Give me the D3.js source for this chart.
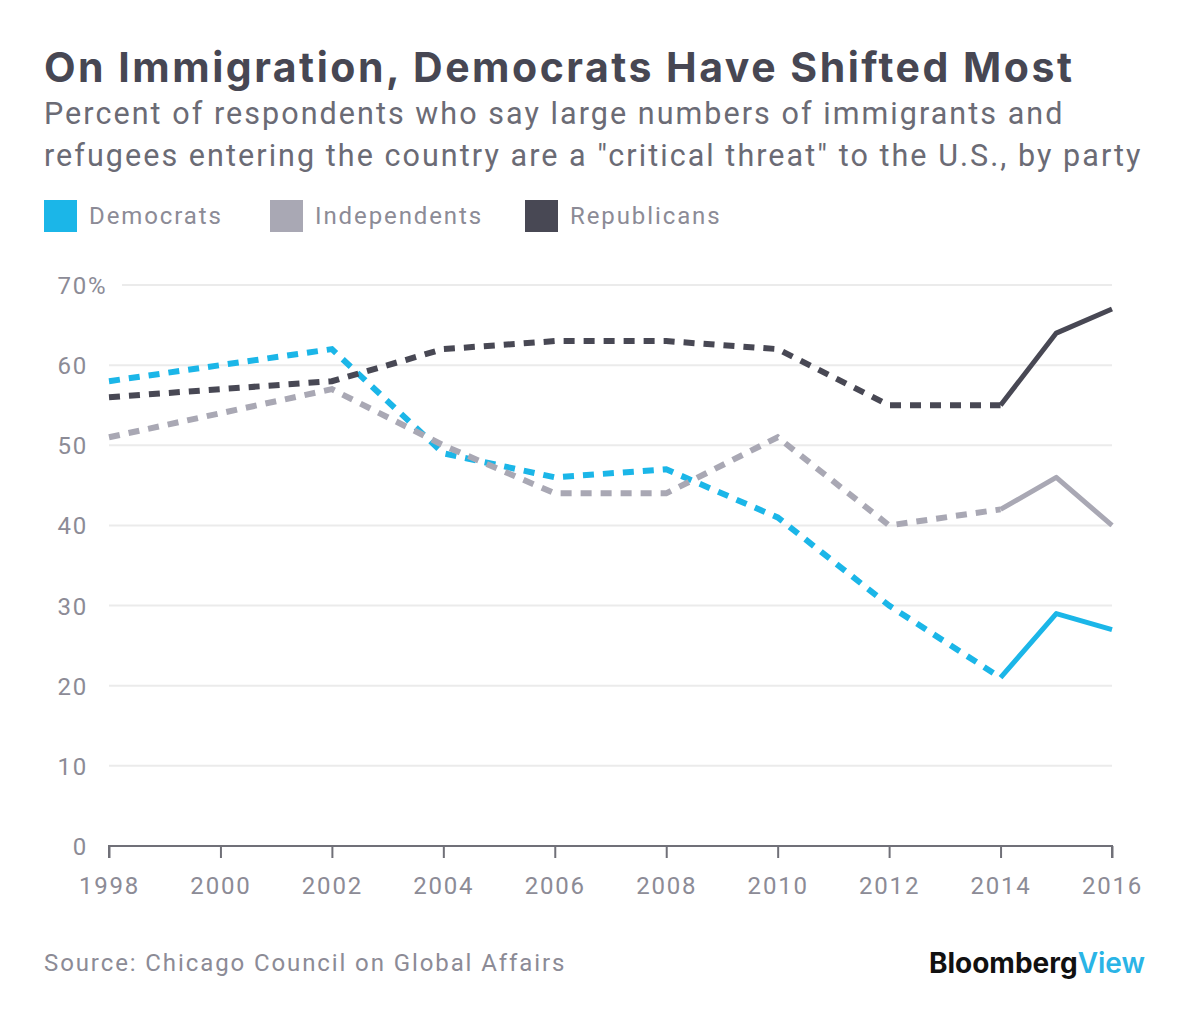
<!DOCTYPE html>
<html><head><meta charset="utf-8">
<script src="https://cdn.jsdelivr.net/npm/d3@7"></script>
<style>body{margin:0;background:#fff}svg{display:block}</style>
</head><body>
<svg id="chart" width="1200" height="1023"></svg>
<script>
const years = [1998, 2002, 2004, 2006, 2008, 2010, 2012, 2014, 2015, 2016];
const democrats = [58, 62, 49, 46, 47, 41, 30, 21, 29, 27];
const independents = [51, 57, 50, 44, 44, 51, 40, 42, 46, 40];
const republicans = [56, 58, 62, 63, 63, 62, 55, 55, 64, 67];
const seriesNames = ["Democrats", "Independents", "Republicans"];
const xTicks = [1998, 2000, 2002, 2004, 2006, 2008, 2010, 2012, 2014, 2016];
const yTicks = [0, 10, 20, 30, 40, 50, 60, 70];
const dashedUntil = 2014;

const colors = {Democrats: "#1bb6e8", Independents: "#a9a8b4", Republicans: "#484854"};
const seriesValues = {Democrats: democrats, Independents: independents, Republicans: republicans};
const font = "Roboto, 'Open Sans', sans-serif";
const grey = "#8c8b96";

const svg = d3.select("#chart");
const x = d3.scaleLinear().domain([1998, 2016]).range([109, 1112]);
const y = d3.scaleLinear().domain([0, 70]).range([846, 285]);

// Title
svg.append("text").attr("x", 44).attr("y", 82).attr("font-family", "Inter, sans-serif")
  .attr("font-weight", 700).attr("font-size", 41).attr("letter-spacing", 2.5).attr("fill", "#474753")
  .text("On Immigration, Democrats Have Shifted Most");
svg.append("text").attr("x", 44).attr("y", 124).attr("font-family", font)
  .attr("font-size", 30.5).attr("letter-spacing", 2.05).attr("fill", "#6b6b75")
  .text("Percent of respondents who say large numbers of immigrants and");
svg.append("text").attr("x", 44).attr("y", 166).attr("font-family", font)
  .attr("font-size", 30.5).attr("letter-spacing", 2.05).attr("fill", "#6b6b75")
  .text("refugees entering the country are a \"critical threat\" to the U.S., by party");

// Legend
const legendX = [44, 270, 525];
seriesNames.forEach((n, i) => {
  const g = svg.append("g").attr("transform", `translate(${legendX[i]},200)`);
  g.append("rect").attr("width", 33).attr("height", 32).attr("fill", colors[n]);
  g.append("text").attr("x", 45).attr("y", 24).attr("font-family", font)
    .attr("font-size", 24).attr("letter-spacing", 1.9).attr("fill", grey).text(n);
});

// Gridlines
svg.append("g").selectAll("line").data(yTicks.filter(d => d > 0)).join("line")
  .attr("x1", d => d === 70 ? 122 : 109).attr("x2", 1112)
  .attr("y1", d => y(d)).attr("y2", d => y(d))
  .attr("stroke", "#ebebeb").attr("stroke-width", 2);

// Y labels
svg.append("g").selectAll("text").data(yTicks).join("text")
  .attr("x", 88).attr("y", d => y(d) + 9).attr("text-anchor", "end")
  .attr("font-family", font).attr("font-size", 24).attr("letter-spacing", 1.8).attr("fill", grey)
  .text(d => d);
svg.append("text").attr("x", 88).attr("y", y(70) + 9)
  .attr("font-family", font).attr("font-size", 24).attr("fill", grey).text("%");

// X axis
const xAxis = d3.axisBottom(x).tickValues(xTicks).tickFormat(d3.format("d")).tickSize(12).tickPadding(19);
const ax = svg.append("g").attr("transform", "translate(0,846)").call(xAxis);
ax.select(".domain").attr("stroke", "#707078").attr("stroke-width", 2).attr("d", "M109,12V0H1112V12");
ax.selectAll(".tick line").attr("stroke", "#707078").attr("stroke-width", 2);
ax.selectAll(".tick text").attr("font-family", font).attr("font-size", 24)
  .attr("letter-spacing", 1.8).attr("fill", grey);

// Lines
const line = d3.line().x(d => x(d.year)).y(d => y(d.value));
seriesNames.forEach(n => {
  const pts = years.map((yr, i) => ({year: yr, value: seriesValues[n][i]}));
  const dashed = pts.filter(p => p.year <= dashedUntil);
  const solid = pts.filter(p => p.year >= dashedUntil);
  svg.append("path").datum(dashed).attr("d", line).attr("fill", "none")
    .attr("stroke", colors[n]).attr("stroke-width", 6).attr("stroke-dasharray", "11,9");
  svg.append("path").datum(solid).attr("d", line).attr("fill", "none")
    .attr("stroke", colors[n]).attr("stroke-width", 5).attr("stroke-linejoin", "round");
});

// Footer
svg.append("text").attr("x", 44).attr("y", 971).attr("font-family", font)
  .attr("font-size", 24).attr("letter-spacing", 1.9).attr("fill", grey)
  .text("Source: Chicago Council on Global Affairs");
const brand = svg.append("text").attr("x", 1145).attr("y", 973).attr("text-anchor", "end")
  .attr("font-family", "Inter, sans-serif").attr("font-weight", 700).attr("font-size", 28)
  .attr("letter-spacing", 0);
brand.append("tspan").attr("fill", "#111").text("Bloomberg");
brand.append("tspan").attr("fill", "#2ab4e6").attr("font-weight", 600).text("View");
</script>
</body></html>
